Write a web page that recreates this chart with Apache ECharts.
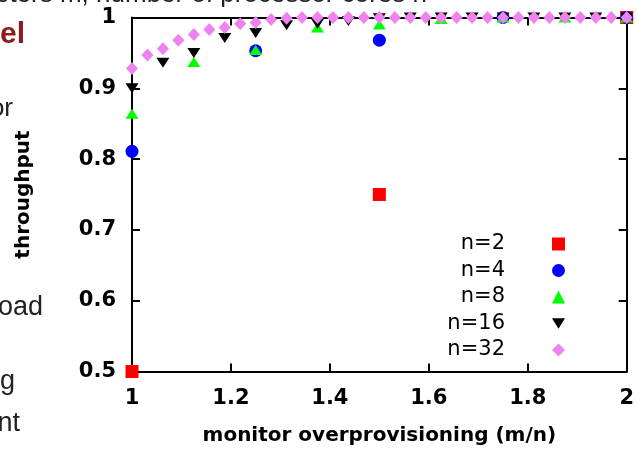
<!DOCTYPE html>
<html><head><meta charset="utf-8">
<script src="https://cdn.jsdelivr.net/npm/echarts@6/dist/echarts.min.js"></script>
<style>html,body{margin:0;padding:0;background:#fff}#c{width:637px;height:456px}</style>
</head><body><div id="c"></div>
<script>
const xTicks = [1, 1.2, 1.4, 1.6, 1.8, 2];
const yTicks = [0.5, 0.6, 0.7, 0.8, 0.9, 1];
const seriesNames = ['n=2', 'n=4', 'n=8', 'n=16', 'n=32'];

const x2 = [1, 1.5, 2];
const y2 = [0.5, 0.75, 1.0];
const x4 = [1, 1.25, 1.5, 1.75, 2];
const y4 = [0.811, 0.953, 0.968, 1.0, 1.0];
const x8 = [1, 1.125, 1.25, 1.375, 1.5, 1.625, 1.75, 1.875, 2];
const y8 = [0.864, 0.937, 0.954, 0.986, 0.990, 0.998, 1.0, 1.0, 1.0];
const x16 = [1, 1.0625, 1.125, 1.1875, 1.25, 1.3125, 1.375, 1.4375, 1.5, 1.5625, 1.625, 1.6875, 1.75, 1.8125, 1.875, 1.9375, 2];
const y16 = [0.900, 0.936, 0.950, 0.971, 0.978, 0.989, 0.991, 0.995, 0.999, 1.0, 1.0, 1.0, 1.0, 1.0, 1.0, 1.0, 1.0];
const x32 = [1, 1.03125, 1.0625, 1.09375, 1.125, 1.15625, 1.1875, 1.21875, 1.25, 1.28125, 1.3125, 1.34375, 1.375, 1.40625, 1.4375, 1.46875, 1.5,
             1.53125, 1.5625, 1.59375, 1.625, 1.65625, 1.6875, 1.71875, 1.75, 1.78125, 1.8125, 1.84375, 1.875, 1.90625, 1.9375, 1.96875, 2];
const y32 = [0.928, 0.947, 0.956, 0.968, 0.976, 0.983, 0.986, 0.991, 0.993, 0.997, 0.999, 1.0, 1.0, 1.0, 1.0, 1.0, 1.0,
             1.0, 1.0, 1.0, 1.0, 1.0, 1.0, 1.0, 1.0, 1.0, 1.0, 1.0, 1.0, 1.0, 1.0, 1.0, 1.0];

const xs = [x2, x4, x8, x16, x32];
const ys = [y2, y4, y8, y16, y32];
const colors = ['#ff0000', '#0000ff', '#00ff00', '#000000', '#ee82ee'];
const symbols = ['rect', 'circle', 'triangle', 'path://M0,0L10,0L5,8Z', 'diamond'];
const sizes = [[13, 13], 13, [13, 10], [13, 10], [12, 13]];

const chart = echarts.init(document.getElementById('c'), null, {renderer: 'canvas'});
const FONT = 'DejaVu Sans';

const axisCommon = {
  axisLine: {show: true, lineStyle: {color: '#000', width: 2}},
  axisTick: {show: true, inside: true, length: 8, lineStyle: {color: '#000', width: 2}},
  splitLine: {show: false}
};

function paperText(x, y, text, font, fill) {
  return {type: 'text', style: {x: x, y: y, text: text, align: 'right', verticalAlign: 'middle', font: font, fill: fill || '#222'}};
}

const option = {
  animation: false,
  backgroundColor: '#fff',
  grid: {left: 132, right: 9, top: 17.5, bottom: 84.5, containLabel: false},
  xAxis: [
    Object.assign({
      type: 'value', min: xTicks[0], max: xTicks[xTicks.length - 1], interval: 0.2, position: 'bottom',
      name: 'monitor overprovisioning (m/n)', nameLocation: 'middle', nameGap: 54,
      nameTextStyle: {fontFamily: FONT, fontWeight: 'bold', fontSize: 20, color: '#000'},
      axisLabel: {margin: 17, fontFamily: FONT, fontWeight: 'bold', fontSize: 21, color: '#000',
        formatter: v => String(Math.round(v * 10) / 10)}
    }, axisCommon),
    Object.assign({
      type: 'value', min: xTicks[0], max: xTicks[xTicks.length - 1], interval: 0.2, position: 'top',
      axisLabel: {show: false}
    }, axisCommon)
  ],
  yAxis: [
    Object.assign({
      type: 'value', min: yTicks[0], max: yTicks[yTicks.length - 1], interval: 0.1, position: 'left',
      name: 'throughput', nameLocation: 'middle', nameGap: 98, nameRotate: 90,
      nameTextStyle: {fontFamily: FONT, fontWeight: 'bold', fontSize: 20, color: '#000'},
      axisLabel: {margin: 16, fontFamily: FONT, fontWeight: 'bold', fontSize: 21, color: '#000',
        formatter: v => String(Math.round(v * 10) / 10)}
    }, axisCommon),
    Object.assign({
      type: 'value', min: yTicks[0], max: yTicks[yTicks.length - 1], interval: 0.1, position: 'right',
      axisLabel: {show: false}
    }, axisCommon)
  ],
  legend: {
    orient: 'vertical', align: 'right', right: 72, top: 233.5, padding: 0,
    itemWidth: 13, itemHeight: 13, itemGap: 5.5,
    textStyle: {fontFamily: FONT, fontSize: 21, color: '#000', padding: [0, 42, 0, 0]},
    data: seriesNames
  },
  graphic: [
    paperText(427, -5.6, 'parameters m, number of processor cores n', '26px "Liberation Sans"'),
    paperText(25, 35, 'Model', 'bold 30px "Liberation Sans"', '#8b1c1c'),
    paperText(13, 108.5, 'monitor', '26px "Liberation Sans"'),
    paperText(43, 307.5, 'load', '27px "Liberation Sans"'),
    paperText(15, 381.5, 'g', '27px "Liberation Sans"'),
    paperText(20, 423.5, 'nt', '27px "Liberation Sans"')
  ],
  series: seriesNames.map((name, i) => ({
    name: name,
    type: 'scatter',
    xAxisIndex: 0, yAxisIndex: 0,
    clip: false,
    symbol: symbols[i],
    symbolSize: sizes[i],
    itemStyle: {color: colors[i], opacity: 1},
    data: xs[i].map((x, j) => [x, ys[i][j]]),
    z: 3 + i
  }))
};
chart.setOption(option);
</script></body></html>
